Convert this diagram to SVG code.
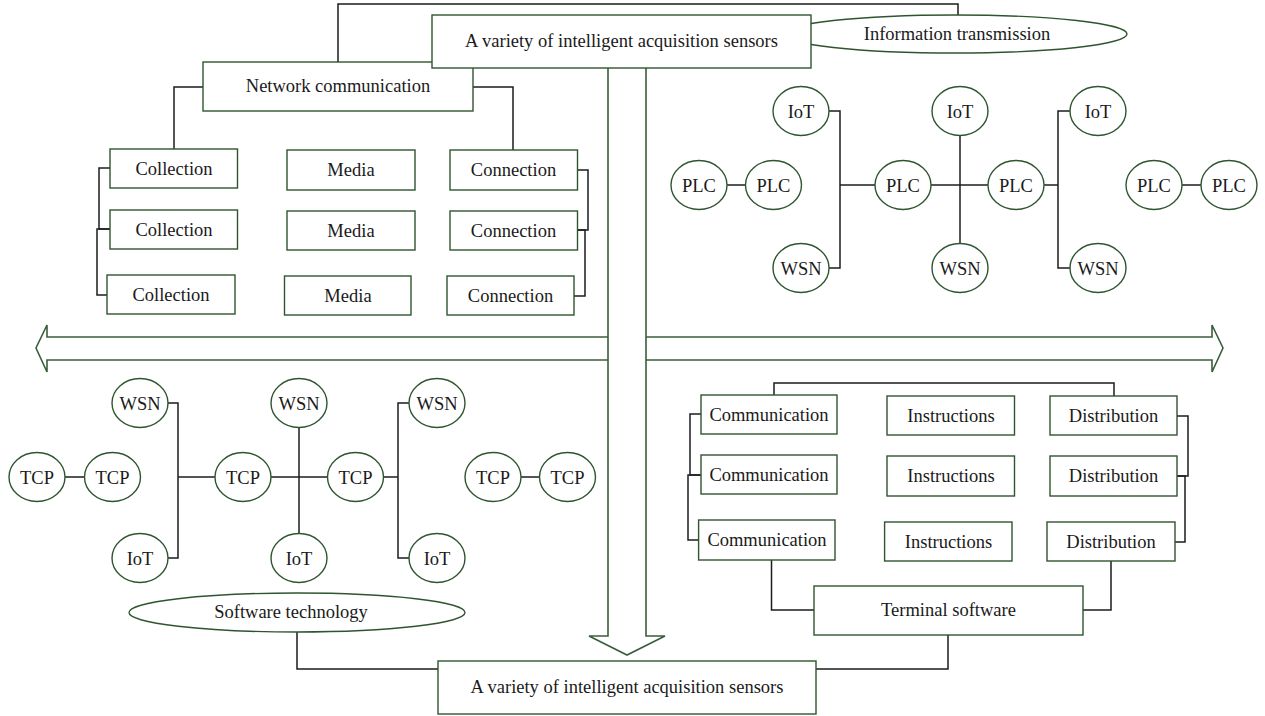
<svg xmlns="http://www.w3.org/2000/svg" width="1265" height="716" viewBox="0 0 1265 716">
<style>
.box{fill:#fff;stroke:#2f5530;stroke-width:1.4}
.node{fill:#fff;stroke:#2f5530;stroke-width:1.4}
.conn{fill:none;stroke:#1c1c1c;stroke-width:1.5}
.arrow{fill:none;stroke:#3a5e3c;stroke-width:1.6}
.t{font-family:"Liberation Serif","Times New Roman",serif;font-size:18.5px;fill:#1a1a1a;text-anchor:middle}
</style>
<rect width="1265" height="716" fill="#fff"/>

<g id="arrows">
<path class="arrow" d="M608,68 V636 H589 L627,655 L665,636 H646 V68"/>
<path class="arrow" d="M608,337 H47 V325 L36,348 L47,372 V360 H608"/>
<path class="arrow" d="M646,337 H1212 V325 L1223,348 L1212,372 V360 H646"/>
</g>

<g id="connectors">
<path class="conn" d="M338,62 V4 H958 V15"/>
<path class="conn" d="M203,87 H174 V149"/>
<path class="conn" d="M473,87 H513 V150"/>
<path class="conn" d="M110,168 H99 V229 H110"/>
<path class="conn" d="M110,229 H97 V295 H107"/>
<path class="conn" d="M577.5,170 H588 V230 H577.5"/>
<path class="conn" d="M577.5,230 H585 V296 H574"/>
<path class="conn" d="M727,185 H745.5"/>
<path class="conn" d="M829,111 H840 V268 H829"/>
<path class="conn" d="M840,185 H875"/>
<path class="conn" d="M960,135.5 V243.5"/>
<path class="conn" d="M931,185 H988"/>
<path class="conn" d="M1044,185 H1058"/>
<path class="conn" d="M1070,111 H1058 V268 H1070"/>
<path class="conn" d="M1182,185 H1201"/>
<path class="conn" d="M65,477 H84.5"/>
<path class="conn" d="M168,403 H178 V558 H168"/>
<path class="conn" d="M178,477 H215"/>
<path class="conn" d="M299,427.5 V533.5"/>
<path class="conn" d="M271,477 H327.5"/>
<path class="conn" d="M383.5,477 H398"/>
<path class="conn" d="M409,403 H398 V558 H409"/>
<path class="conn" d="M521,477 H539.5"/>
<path class="conn" d="M297,632 V669 H438"/>
<path class="conn" d="M774,395 V383 H1114 V396"/>
<path class="conn" d="M701,414 H690 V475 H701"/>
<path class="conn" d="M701,475 H688 V540 H698.6"/>
<path class="conn" d="M1177,416 H1188 V476 H1177"/>
<path class="conn" d="M1177,476 H1185 V542 H1175"/>
<path class="conn" d="M771.5,560 V610 H814"/>
<path class="conn" d="M1111,561 V610 H1083"/>
<path class="conn" d="M948,635 V669 H816"/>
</g>

<g id="network-communication"><rect class="box" x="203" y="62" width="270" height="49"/><text class="t" x="338" y="92">Network communication</text></g>
<g id="info-transmission"><ellipse class="node" cx="955" cy="34" rx="172" ry="19"/><text class="t" x="957" y="40">Information transmission</text></g>
<g id="sensors-top"><rect class="box" x="432" y="15" width="379" height="53"/><text class="t" x="621.5" y="47">A variety of intelligent acquisition sensors</text></g>

<g id="collection-1"><rect class="box" x="110" y="149" width="127.5" height="39"/><text class="t" x="174" y="174.5">Collection</text></g>
<g id="collection-2"><rect class="box" x="110" y="210" width="127.5" height="39"/><text class="t" x="174" y="235.5">Collection</text></g>
<g id="collection-3"><rect class="box" x="107" y="275" width="128" height="39"/><text class="t" x="171" y="300.5">Collection</text></g>
<g id="media-1"><rect class="box" x="287" y="150" width="128" height="40"/><text class="t" x="351" y="176">Media</text></g>
<g id="media-2"><rect class="box" x="287" y="211" width="128" height="39"/><text class="t" x="351" y="236.5">Media</text></g>
<g id="media-3"><rect class="box" x="284.5" y="276" width="126.5" height="39"/><text class="t" x="348" y="301.5">Media</text></g>
<g id="connection-1"><rect class="box" x="450" y="150" width="127.5" height="40"/><text class="t" x="513.5" y="176">Connection</text></g>
<g id="connection-2"><rect class="box" x="450" y="211" width="127.5" height="39"/><text class="t" x="513.5" y="236.5">Connection</text></g>
<g id="connection-3"><rect class="box" x="447" y="276" width="127" height="39"/><text class="t" x="510.5" y="301.5">Connection</text></g>

<g id="plc-tr-a"><ellipse class="node" cx="699" cy="185" rx="28" ry="24.5"/><text class="t" x="699" y="191.5">PLC</text></g>
<g id="plc-tr-b"><ellipse class="node" cx="773.5" cy="185" rx="28" ry="24.5"/><text class="t" x="773.5" y="191.5">PLC</text></g>
<g id="iot-tr-1"><ellipse class="node" cx="801" cy="111" rx="28" ry="24.5"/><text class="t" x="801" y="117.5">IoT</text></g>
<g id="wsn-tr-1"><ellipse class="node" cx="801" cy="268" rx="28" ry="24.5"/><text class="t" x="801" y="274.5">WSN</text></g>
<g id="plc-tr-1"><ellipse class="node" cx="903" cy="185" rx="28" ry="24.5"/><text class="t" x="903" y="191.5">PLC</text></g>
<g id="iot-tr-2"><ellipse class="node" cx="960" cy="111" rx="28" ry="24.5"/><text class="t" x="960" y="117.5">IoT</text></g>
<g id="wsn-tr-2"><ellipse class="node" cx="960" cy="268" rx="28" ry="24.5"/><text class="t" x="960" y="274.5">WSN</text></g>
<g id="plc-tr-2"><ellipse class="node" cx="1016" cy="185" rx="28" ry="24.5"/><text class="t" x="1016" y="191.5">PLC</text></g>
<g id="iot-tr-3"><ellipse class="node" cx="1098" cy="111" rx="28" ry="24.5"/><text class="t" x="1098" y="117.5">IoT</text></g>
<g id="wsn-tr-3"><ellipse class="node" cx="1098" cy="268" rx="28" ry="24.5"/><text class="t" x="1098" y="274.5">WSN</text></g>
<g id="plc-tr-c"><ellipse class="node" cx="1154" cy="185" rx="28" ry="24.5"/><text class="t" x="1154" y="191.5">PLC</text></g>
<g id="plc-tr-d"><ellipse class="node" cx="1229" cy="185" rx="28" ry="24.5"/><text class="t" x="1229" y="191.5">PLC</text></g>

<g id="tcp-bl-a"><ellipse class="node" cx="37" cy="477" rx="28" ry="24.5"/><text class="t" x="37" y="483.5">TCP</text></g>
<g id="tcp-bl-b"><ellipse class="node" cx="112.5" cy="477" rx="28" ry="24.5"/><text class="t" x="112.5" y="483.5">TCP</text></g>
<g id="wsn-bl-1"><ellipse class="node" cx="140" cy="403" rx="28" ry="24.5"/><text class="t" x="140" y="409.5">WSN</text></g>
<g id="iot-bl-1"><ellipse class="node" cx="140" cy="558" rx="28" ry="24.5"/><text class="t" x="140" y="564.5">IoT</text></g>
<g id="tcp-bl-1"><ellipse class="node" cx="243" cy="477" rx="28" ry="24.5"/><text class="t" x="243" y="483.5">TCP</text></g>
<g id="wsn-bl-2"><ellipse class="node" cx="299" cy="403" rx="28" ry="24.5"/><text class="t" x="299" y="409.5">WSN</text></g>
<g id="iot-bl-2"><ellipse class="node" cx="299" cy="558" rx="28" ry="24.5"/><text class="t" x="299" y="564.5">IoT</text></g>
<g id="tcp-bl-2"><ellipse class="node" cx="355.5" cy="477" rx="28" ry="24.5"/><text class="t" x="355.5" y="483.5">TCP</text></g>
<g id="wsn-bl-3"><ellipse class="node" cx="437" cy="403" rx="28" ry="24.5"/><text class="t" x="437" y="409.5">WSN</text></g>
<g id="iot-bl-3"><ellipse class="node" cx="437" cy="558" rx="28" ry="24.5"/><text class="t" x="437" y="564.5">IoT</text></g>
<g id="tcp-bl-c"><ellipse class="node" cx="493" cy="477" rx="28" ry="24.5"/><text class="t" x="493" y="483.5">TCP</text></g>
<g id="tcp-bl-d"><ellipse class="node" cx="567.5" cy="477" rx="28" ry="24.5"/><text class="t" x="567.5" y="483.5">TCP</text></g>

<g id="software-technology"><ellipse class="node" cx="297" cy="612.5" rx="168" ry="19.5"/><text class="t" x="291" y="618">Software technology</text></g>
<g id="sensors-bottom"><rect class="box" x="438" y="661" width="378" height="53"/><text class="t" x="627" y="693">A variety of intelligent acquisition sensors</text></g>

<g id="communication-1"><rect class="box" x="701" y="395" width="136" height="39"/><text class="t" x="769" y="420.5">Communication</text></g>
<g id="communication-2"><rect class="box" x="701" y="455" width="136" height="39"/><text class="t" x="769" y="480.5">Communication</text></g>
<g id="communication-3"><rect class="box" x="698.6" y="520" width="136.4" height="40"/><text class="t" x="767" y="546">Communication</text></g>
<g id="instructions-1"><rect class="box" x="887" y="396" width="127.5" height="39"/><text class="t" x="951" y="421.5">Instructions</text></g>
<g id="instructions-2"><rect class="box" x="887" y="456" width="127.5" height="40"/><text class="t" x="951" y="482">Instructions</text></g>
<g id="instructions-3"><rect class="box" x="884.6" y="522" width="127.4" height="39"/><text class="t" x="948.5" y="547.5">Instructions</text></g>
<g id="distribution-1"><rect class="box" x="1050" y="396" width="127" height="39"/><text class="t" x="1113.5" y="421.5">Distribution</text></g>
<g id="distribution-2"><rect class="box" x="1050" y="456" width="127" height="40"/><text class="t" x="1113.5" y="482">Distribution</text></g>
<g id="distribution-3"><rect class="box" x="1047" y="522" width="128" height="39"/><text class="t" x="1111" y="547.5">Distribution</text></g>
<g id="terminal-software"><rect class="box" x="814" y="586" width="269" height="49"/><text class="t" x="948.5" y="616">Terminal software</text></g>
</svg>
